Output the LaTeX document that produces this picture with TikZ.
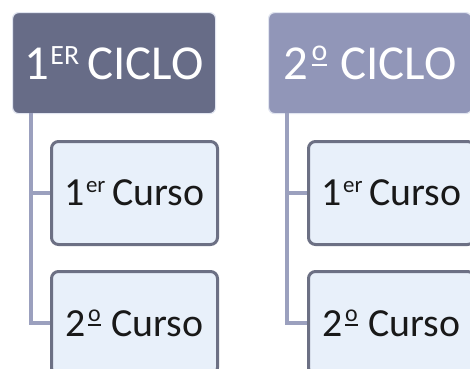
\documentclass[tikz,border=0pt]{standalone}
\usepackage{fontspec}
\setmainfont{Carlito}
\definecolor{hdA}{RGB}{103,108,135}
\definecolor{hdB}{RGB}{145,150,184}
\definecolor{kidfill}{RGB}{232,240,250}
\definecolor{kidline}{RGB}{108,112,132}
\definecolor{linkc}{RGB}{155,160,190}
\definecolor{glow}{RGB}{225,229,240}
\newcommand{\supA}[1]{\kern1pt\raisebox{15pt}{\fontsize{28}{28}\selectfont #1}\relax}
\newcommand{\supB}[1]{\kern1pt\raisebox{13pt}{\fontsize{23}{23}\selectfont #1}\relax}
% ordinal indicator: small raised o with a bar beneath
\newcommand{\ordo}[4]{\kern0.06em\raisebox{#2}{\fontsize{#1}{#1}\selectfont\setbox0\hbox{o}\vtop{\hbox{o}\kern#3\hrule height #4 width \wd0}}\kern0.04em\relax}
\begin{document}
\begin{tikzpicture}[x=1bp,y=-1bp,
  header/.style={rectangle, rounded corners=6bp, draw=glow, line width=1.2bp,
    minimum width=203bp, minimum height=101bp, inner sep=0pt, text=white,
    font=\fontsize{49}{49}\selectfont, anchor=north west},
  kid/.style={rectangle, rounded corners=7bp, draw=kidline, line width=3bp,
    fill=kidfill, minimum width=166bp, minimum height=103bp, inner sep=0pt,
    text={black!90}, font=\fontsize{40}{40}\selectfont, anchor=north west},
  link/.style={draw=linkc, line width=4bp}]
\useasboundingbox[fill=white] (0,0) rectangle (470,368);
% left column
\node[header, fill=hdA] (h1) at (12,12) {1\supA{ER}\,CICLO};
\node[kid] (a1) at (50,140) {1\supB{er}\,Curso};
\node[kid] (a2) at (50,270) {2\ordo{24pt}{15pt}{2.5pt}{2pt} Curso};
\coordinate (s1) at (31,113);
\draw[link] (s1) |- (a1.west);
\draw[link] (s1) |- (a2.west);
% right column
\node[header, fill=hdB] (h2) at (268,12) {2\ordo{30pt}{19pt}{3pt}{2.5pt} CICLO};
\node[kid] (b1) at (307,140) {1\supB{er}\,Curso};
\node[kid] (b2) at (307,270) {2\ordo{24pt}{15pt}{2.5pt}{2pt} Curso};
\coordinate (s2) at (287,113);
\draw[link] (s2) |- (b1.west);
\draw[link] (s2) |- (b2.west);
\end{tikzpicture}
\end{document}
